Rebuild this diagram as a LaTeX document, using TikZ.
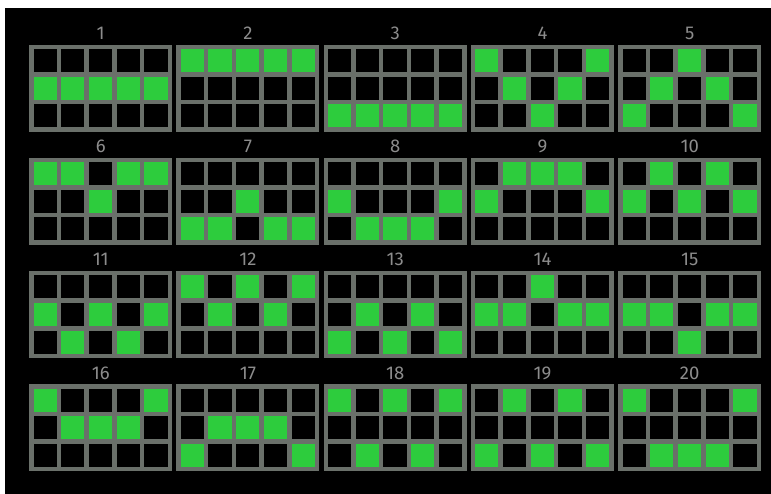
\documentclass[tikz,border=0pt]{standalone}
\usepackage{fontspec}
\setmainfont{Fira Sans}
\definecolor{gridgray}{HTML}{6A706A}
\definecolor{litgreen}{HTML}{2DCC3D}
\definecolor{lblgray}{HTML}{8C8C8C}
\tikzset{
  frame/.style={fill=gridgray, draw=none, inner sep=0pt, anchor=north west, minimum width=143pt, minimum height=87pt},
  cellbg/.style={fill=black},
  lit/.style={fill=litgreen},
  lbl/.style={text=lblgray, font=\fontsize{18.5}{18.5}\selectfont, anchor=base, inner sep=0pt}
}
\newcommand\pgrid[4]{%
  \node[frame] (g#1) at (#2,#3) {};
  \foreach \c in {0,...,4}{\foreach \r in {0,...,2}{%
    \fill[cellbg] ({#2+4.5+\c*27.7},{#3+4.5+\r*27.5}) rectangle ++(23.2,23);}}
  \foreach \c/\r in {#4}{%
    \fill[lit] ({#2+4.5+\c*27.7},{#3+4.5+\r*27.5}) rectangle ++(23.2,23);}
  \node[lbl] (l#1) at ([yshift=5pt]g#1.north) {#1};
}
\begin{document}
\begin{tikzpicture}[x=1pt,y=-1pt]
\useasboundingbox (0,0) rectangle (771,494);
\fill[white] (0,0) rectangle (771,494);
\fill[black] (5,8) rectangle (771,494);
\pgrid{1}{29}{45}{0/1,1/1,2/1,3/1,4/1}
\pgrid{2}{176.25}{45}{0/0,1/0,2/0,3/0,4/0}
\pgrid{3}{323.5}{45}{0/2,1/2,2/2,3/2,4/2}
\pgrid{4}{470.75}{45}{0/0,4/0,1/1,3/1,2/2}
\pgrid{5}{618}{45}{2/0,1/1,3/1,0/2,4/2}
\pgrid{6}{29}{158}{0/0,1/0,3/0,4/0,2/1}
\pgrid{7}{176.25}{158}{2/1,0/2,1/2,3/2,4/2}
\pgrid{8}{323.5}{158}{0/1,4/1,1/2,2/2,3/2}
\pgrid{9}{470.75}{158}{1/0,2/0,3/0,0/1,4/1}
\pgrid{10}{618}{158}{1/0,3/0,0/1,2/1,4/1}
\pgrid{11}{29}{271}{0/1,2/1,4/1,1/2,3/2}
\pgrid{12}{176.25}{271}{0/0,2/0,4/0,1/1,3/1}
\pgrid{13}{323.5}{271}{1/1,3/1,0/2,2/2,4/2}
\pgrid{14}{470.75}{271}{2/0,0/1,1/1,3/1,4/1}
\pgrid{15}{618}{271}{0/1,1/1,3/1,4/1,2/2}
\pgrid{16}{29}{384}{0/0,4/0,1/1,2/1,3/1}
\pgrid{17}{176.25}{384}{1/1,2/1,3/1,0/2,4/2}
\pgrid{18}{323.5}{384}{0/0,2/0,4/0,1/2,3/2}
\pgrid{19}{470.75}{384}{1/0,3/0,0/2,2/2,4/2}
\pgrid{20}{618}{384}{0/0,4/0,1/2,2/2,3/2}
\end{tikzpicture}
\end{document}
